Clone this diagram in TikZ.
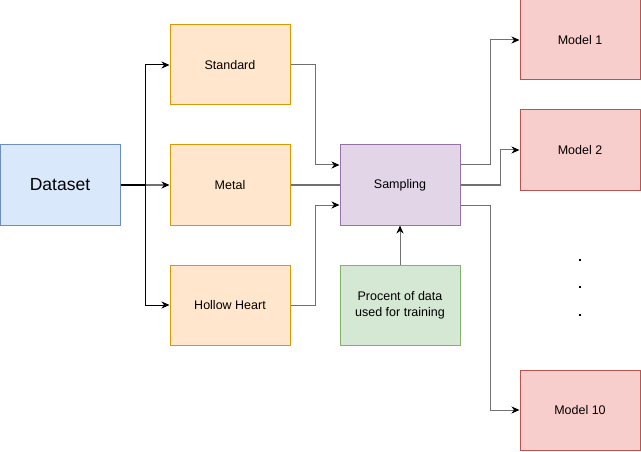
\documentclass[tikz,border=0pt]{standalone}
\usepackage{fontspec}
\setmainfont{Liberation Sans}
\usetikzlibrary{arrows.meta}
\definecolor{bluef}{HTML}{DAE8FC}\definecolor{blued}{HTML}{6C8EBF}
\definecolor{orgf}{HTML}{FFE6CC}\definecolor{orgd}{HTML}{D79B00}
\definecolor{purf}{HTML}{E1D5E7}\definecolor{purd}{HTML}{9673A6}
\definecolor{grnf}{HTML}{D5E8D4}\definecolor{grnd}{HTML}{82B366}
\definecolor{redf}{HTML}{F8CECC}\definecolor{redd}{HTML}{B85450}
\definecolor{edgegray}{HTML}{707070}
\begin{document}
\begin{tikzpicture}[x=1pt,y=-1pt,
  box/.style={draw, line width=1pt, minimum width=120pt, minimum height=80pt, inner sep=0pt, font=\fontsize{12.5}{16}\selectfont, align=center},
  bluebox/.style={box, fill=bluef, draw=blued},
  orgbox/.style={box, fill=orgf, draw=orgd},
  purbox/.style={box, fill=purf, draw=purd},
  grnbox/.style={box, fill=grnf, draw=grnd},
  redbox/.style={box, fill=redf, draw=redd},
  conn/.style={draw=edgegray, line width=1pt, -{Stealth[length=8pt,width=7pt,inset=2.5pt,color=black]}},
  darkconn/.style={conn, draw=black},
  dotn/.style={fill=black, minimum size=2.5pt, inner sep=0pt}
]
\useasboundingbox (0,0) rectangle (641,452);
\node[bluebox, font=\fontsize{17.5}{20}\selectfont] (ds) at (60,185) {Dataset};
\node[orgbox] (std) at (230,65) {Standard};
\node[orgbox] (met) at (230,185) {Metal};
\node[orgbox] (hh) at (230,305) {Hollow Heart};
\node[purbox] (smp) at (400,185) {Sampling};
\node[grnbox] (pct) at (400,305) {Procent of data\\used for training};
\node[redbox] (m1) at (580,40) {Model 1};
\node[redbox] (m2) at (580,150) {Model 2};
\node[redbox] (m10) at (580,410) {Model 10};
\node[dotn] (d1) at (580,260) {};
\node[dotn] (d2) at (580,287) {};
\node[dotn] (d3) at (580,315) {};

\draw[darkconn] (ds.east) -| (145,65) -- (std.west);
\draw[conn] (ds.east) -- (met.west);
\draw[darkconn] (ds.east) -| (145,305) -- (hh.west);
\draw[line width=1.3pt] (ds.east) -- (145,185);

\draw[conn] (std.east) -| (315,165) -- (smp.west |- 0,165);
\draw[draw=edgegray, line width=1pt] (met.east) -- (smp.west);
\draw[conn] (hh.east) -| (315,205) -- (smp.west |- 0,205);
\draw[conn] (pct.north) -- (smp.south);

\draw[conn] (smp.east |- 0,165) -| (490,40) -- (m1.west);
\draw[conn] (smp.east) -| (500,150) -- (m2.west);
\draw[conn] (smp.east |- 0,205) -| (490,410) -- (m10.west);
\end{tikzpicture}
\end{document}
